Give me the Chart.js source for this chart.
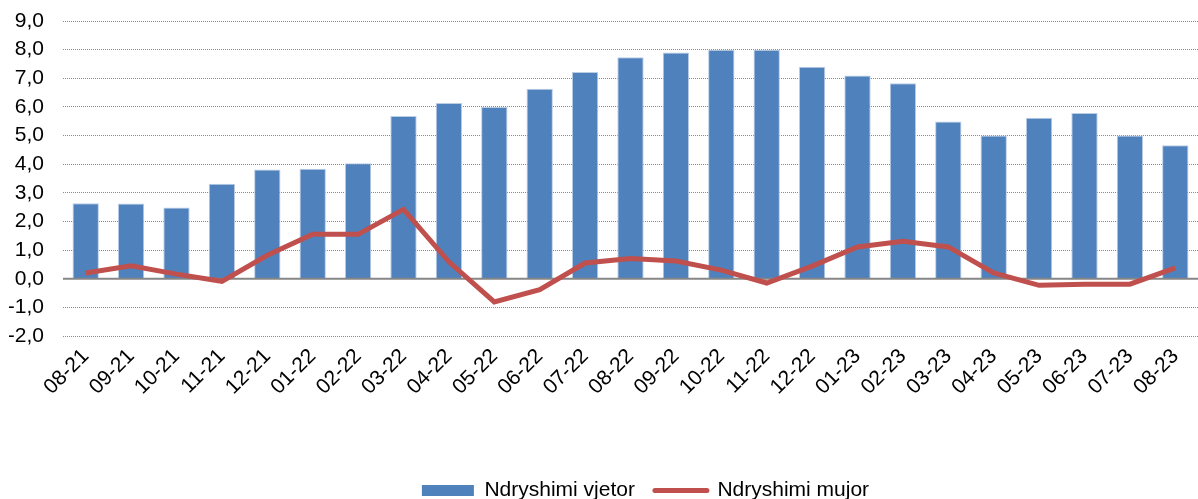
<!DOCTYPE html>
<html>
<head>
<meta charset="utf-8">
<script src="https://cdn.jsdelivr.net/npm/chart.js@4/dist/chart.umd.min.js"></script>
<style>
html,body{margin:0;padding:0;background:#fff;}
#wrap{width:1198px;height:499px;position:relative;}
</style>
</head>
<body>
<div id="wrap"><canvas id="c"></canvas></div>
<script>
const categories = ["08-21","09-21","10-21","11-21","12-21","01-22","02-22","03-22","04-22","05-22","06-22","07-22","08-22","09-22","10-22","11-22","12-22","01-23","02-23","03-23","04-23","05-23","06-23","07-23","08-23"];
const annualChange = [2.64,2.63,2.49,3.32,3.81,3.84,4.03,5.68,6.14,6.0,6.63,7.22,7.73,7.9,8.0,8.0,7.4,7.1,6.83,5.49,5.0,5.62,5.79,5.0,4.66];
const monthlyChange = [0.2,0.45,0.16,-0.09,0.82,1.55,1.55,2.42,0.59,-0.81,-0.38,0.55,0.71,0.62,0.3,-0.15,0.44,1.11,1.31,1.11,0.2,-0.23,-0.19,-0.19,0.38];
const seriesNames = ["Ndryshimi vjetor","Ndryshimi mujor"];
const yMin = -2, yMax = 9, yStep = 1;

const FONT = "'Liberation Sans', Arial, sans-serif";
const FS = 21;

const zeroLine = {
  id: 'zeroLine',
  afterDatasetDraw(chart, args) {
    if (args.index !== 0) return;
    const {ctx, chartArea} = chart;
    const y = chart.scales.y.getPixelForValue(0);
    ctx.save();
    ctx.strokeStyle = '#868686';
    ctx.lineWidth = 2;
    ctx.beginPath();
    ctx.moveTo(chartArea.left, y);
    ctx.lineTo(chartArea.right, y);
    ctx.stroke();
    ctx.restore();
  }
};
const legendShift = {
  id: 'legendShift',
  afterLayout(chart) {
    chart.legend.top += 12;
    chart.legend.bottom += 12;
    chart.legend.left += 42;
    chart.legend.right += 42;
  }
};

new Chart(document.getElementById('c'), {
  data: {
    labels: categories,
    datasets: [
      {
        type: 'bar',
        label: seriesNames[0],
        data: annualChange,
        backgroundColor: '#4F81BD',
        borderColor: '#B9CDE5',
        borderWidth: {top:1,left:1,right:1,bottom:0},
        barPercentage: 0.58,
        categoryPercentage: 1.0,
        order: 2
      },
      {
        type: 'line',
        label: seriesNames[1],
        data: monthlyChange,
        borderColor: '#C0504D',
        backgroundColor: '#C0504D',
        borderWidth: 5,
        pointRadius: 0,
        tension: 0,
        order: 1
      }
    ]
  },
  options: {
    responsive: true,
    maintainAspectRatio: false,
    animation: false,
    layout: {padding: {left: 9, right: 0, top: 21, bottom: 0}},
    plugins: {
      tooltip: {enabled: false},
      legend: {
        position: 'bottom',
        labels: {
          font: {family: FONT, size: FS},
          color: '#000',
          usePointStyle: true,
          pointStyleWidth: 52,
          boxWidth: 52,
          boxHeight: 11,
          padding: 20,
          sort: (a, b) => a.datasetIndex - b.datasetIndex,
          generateLabels(chart) {
            return chart.data.datasets.map((ds, i) => ({
              text: ds.label,
              fillStyle: ds.type === 'line' ? '#C0504D' : '#4F81BD',
              strokeStyle: ds.type === 'line' ? '#C0504D' : '#4F81BD',
              lineWidth: ds.type === 'line' ? 5 : 0,
              lineCap: 'round',
              pointStyle: ds.type === 'line' ? 'line' : 'rect',
              fontColor: '#000',
              hidden: false,
              datasetIndex: i
            }));
          }
        }
      }
    },
    scales: {
      x: {
        offset: true,
        grid: {display: false},
        border: {display: false},
        ticks: {
          font: {family: FONT, size: FS},
          color: '#000',
          minRotation: 45,
          maxRotation: 45,
          autoSkip: false,
          padding: 0
        },
        afterFit(scale) { scale.height = 112; scale.paddingLeft = 0; scale.paddingRight = 0; }
      },
      y: {
        min: yMin,
        max: yMax,
        border: {display: false, dash: [1, 1]},
        grid: {color: '#8a8a8a', lineWidth: 1, drawTicks: false},
        ticks: {
          stepSize: yStep,
          font: {family: FONT, size: FS},
          color: '#000',
          padding: 19,
          callback: v => v.toFixed(1).replace('.', ',')
        },
        afterFit(scale) { scale.width = 54; scale.paddingTop = 0; scale.paddingBottom = 0; }
      }
    }
  },
  plugins: [zeroLine, legendShift]
});
</script>
</body>
</html>
